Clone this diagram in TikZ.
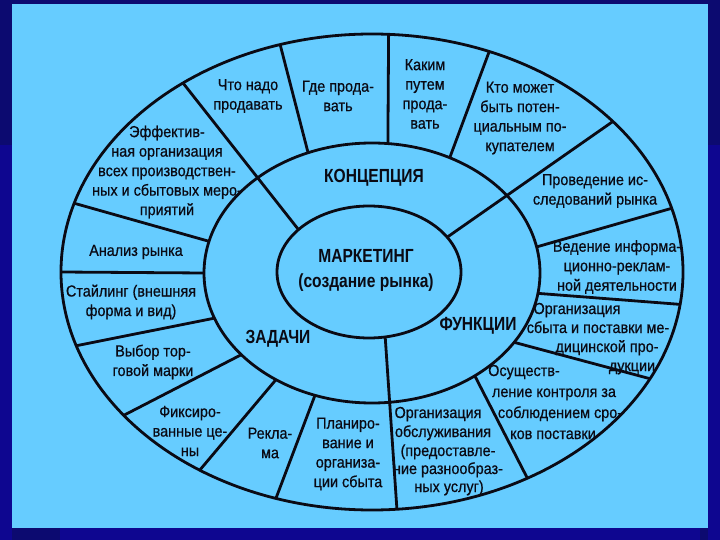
\documentclass[tikz,border=0pt]{standalone}
\usepackage{fontspec}
\setmainfont{Liberation Sans}
\newfontfamily\lblfont{Liberation Sans}[FakeStretch=0.9, FakeBold=0.6]
\newfontfamily\bldfont{Liberation Sans}[FakeStretch=0.82]
\usetikzlibrary{shapes.geometric}
\definecolor{navy}{HTML}{0C0A70}
\definecolor{navyb}{HTML}{0E0690}
\definecolor{sky}{HTML}{66CCFF}
\definecolor{linec}{HTML}{0A0A14}
\tikzset{
  ring/.style={shape=ellipse, draw=linec, line width=2.8pt, inner sep=0pt, outer sep=0pt},
  div/.style={draw=linec, line width=2.8pt},
  lbl/.style={font=\lblfont\fontsize{16}{19.5}\selectfont, align=center, inner sep=0pt, text=linec},
  ln/.style={font=\lblfont\fontsize{16}{19.5}\selectfont, inner sep=0pt, text height=12pt, text depth=4pt, text=linec},
  bld/.style={font=\bldfont\bfseries\fontsize{19}{25}\selectfont, align=center, inner sep=0pt, text=linec}
}
\begin{document}
\begin{tikzpicture}[x=1pt,y=-1pt]
\useasboundingbox (0,0) rectangle (720,540);
% background
\fill[navy] (0,0) rectangle (720,540);
\fill[navyb] (0,145) rectangle (12,540);
\fill[navyb] (708,145) rectangle (720,540);
\fill[navyb] (60,528) rectangle (700,540);
\fill[sky] (12,4) rectangle (708,528);
% ellipses
\node[ring, minimum width=622pt, minimum height=476pt] (outer) at (372,272) {};
\node[ring, minimum width=336pt, minimum height=260pt] (mid) at (372,273) {};
\node[ring, minimum width=184pt, minimum height=132pt] (inner) at (369,272) {};
% dividers in outer ring
\draw[div] (mid.118.4) -- (outer.112.15);
\draw[div] (mid.83.4) -- (outer.86.4);
\draw[div] (mid.56.1) -- (outer.62.1);
\draw[div] (inner.24.7) -- (outer.32.0);
\draw[div] (mid.9.6) -- (outer.12.0);
\draw[div] (mid.-7.5) -- (outer.-6.1);
\draw[div] (mid.-26.1) -- (outer.-21.9);
\draw[div] (mid.-45.5) -- (outer.-53.0);
\draw[div] (inner.-76.8) -- (outer.-84.5);
\draw[div] (mid.245.5) -- (outer.247.4);
\draw[div] (mid.228.9) -- (outer.229.0);
\draw[div] (mid.212.7) -- (outer.210.2);
\draw[div] (mid.196.5) -- (outer.194.9);
\draw[div] (mid.180) -- (outer.180);
\draw[div] (mid.169.6) -- (outer.167.3);
\draw[div] (inner.149.4) -- (outer.135.3);
% centre texts
\node[bld] (mk) at (366,270) {МАРКЕТИНГ\\(создание рынка)};
\node[bld] (konc) at (374,178) {КОНЦЕПЦИЯ};
\node[bld] (zad) at (278,339) {ЗАДАЧИ};
\node[bld] (fun) at (478,326) {ФУНКЦИИ};
% outer ring texts
\node[lbl] (t1) at (248,96) {Что надо\\продавать};
\node[lbl] (t2) at (338,96) {Где прода-\\вать};
\node[lbl] (t3) at (425,94) {Каким\\путем\\прода-\\вать};
\node[lbl] (t4) at (520,118) {Кто может\\быть потен-\\циальным по-\\купателем};
\node[lbl] (t5) at (595,191) {Проведение ис-\\следований рынка};
\node[lbl] (t6) at (617,267) {Ведение информа-\\ционно-реклам-\\ной деятельности};
\node[ln] (t7a) at (577,310) {Организация};
\node[ln] (t7b) at (598,329) {сбыта и поставки ме-};
\node[ln] (t7c) at (607,348) {дицинской про-};
\node[ln] (t7d) at (632,367) {дукции};
\node[ln] (t8a) at (524,372) {Осуществ-};
\node[ln] (t8b) at (554,393) {ление контроля за};
\node[ln] (t8c) at (560,414) {соблюдением сро-};
\node[ln] (t8d) at (553,435) {ков поставки};
\node[ln] (t9a) at (438,414) {Организация};
\node[ln] (t9b) at (443,433) {обслуживания};
\node[ln] (t9c) at (448,452) {(предоставле-};
\node[ln] (t9d) at (448,470) {ние разнообраз-};
\node[ln] (t9e) at (449,488) {ных услуг)};
\node[lbl] (t10) at (348,454) {Планиро-\\вание и\\организа-\\ции сбыта};
\node[lbl] (t11) at (270,443) {Рекла-\\ма};
\node[lbl] (t12) at (190,431) {Фиксиро-\\ванные це-\\ны};
\node[lbl] (t13) at (153,362) {Выбор тор-\\говой марки};
\node[lbl] (t14) at (131,302) {Стайлинг (внешняя\\форма и вид)};
\node[lbl] (t15) at (136,252) {Анализ рынка};
\node[lbl] (t16) at (167,172) {Эффектив-\\ная организация\\всех производствен-\\ных и сбытовых меро-\\приятий};
\end{tikzpicture}
\end{document}
